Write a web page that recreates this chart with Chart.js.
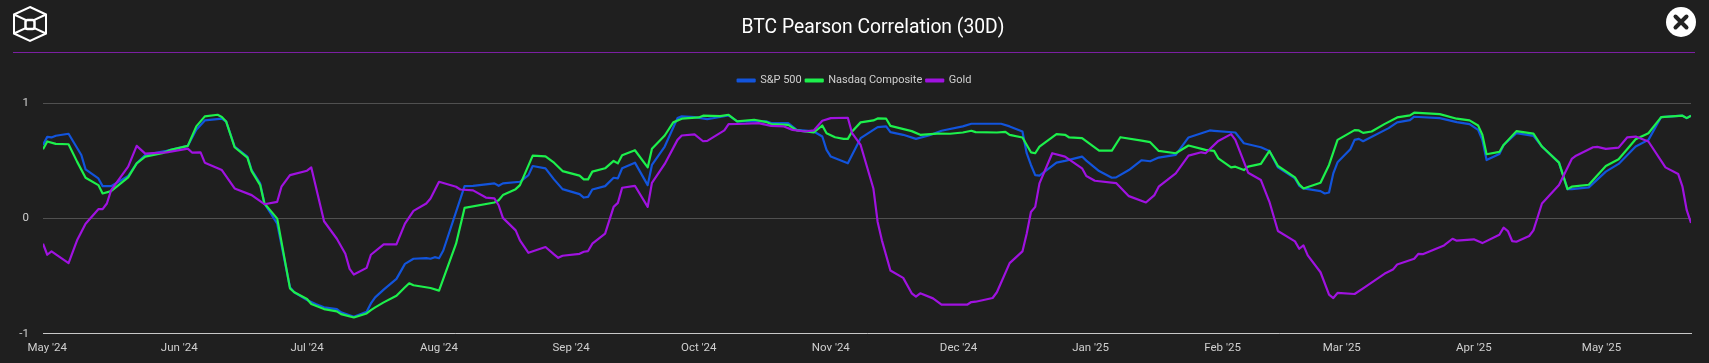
<!DOCTYPE html>
<html>
<head>
<meta charset="utf-8">
<title>BTC Pearson Correlation (30D)</title>
<script src="https://cdn.jsdelivr.net/npm/chart.js@4"></script>
<style>
    html, body { margin: 0; padding: 0; background: #1f1f1f; overflow: hidden; }
    #wrap { position: relative; width: 1709px; height: 363px; }
    #logo { position: absolute; left: 12px; top: 5px; }
    #close { position: absolute; left: 1665px; top: 6px; }
    #rule { position: absolute; left: 13px; top: 52px; width: 1682px; height: 1px; background: #7b1fa2; }
    #heading { position: absolute; left: 673px; width: 400px; top: 14px; text-align: center; color: #fff; font: 19.3px/26px Roboto, sans-serif; }
</style>
</head>
<body>
<div id="wrap">
    <canvas id="chart" width="1709" height="363"></canvas>
    <svg id="logo" width="36" height="38" viewBox="0 0 36 38" fill="none" stroke="#fff" stroke-width="2">
        <path d="M18 2 L34 9.500 V28.500 L18 36 L2 28.500 V9.500 Z"/>
        <path d="M2 9.500 L18 17 L34 9.500 M2 28.500 L18 21 L34 28.500"/>
        <rect x="13.500" y="15" width="9" height="9" rx="2" fill="#1f1f1f" stroke-width="2.500"/>
    </svg>
    <svg id="close" width="32" height="32" viewBox="0 0 32 32">
        <circle cx="16" cy="16" r="15" fill="#fff"/>
        <path d="M10.500 10.500 L21.500 21.500 M21.500 10.500 L10.500 21.500" stroke="#222" stroke-width="4" stroke-linecap="round"/>
    </svg>
    <div id="rule"></div>
    <div id="heading">BTC Pearson Correlation (30D)</div>
</div>
<script>
// days counted from 1 May 2024
const monthDays = [0, 31, 61, 92, 123, 153, 184, 214, 245, 276, 304, 335, 365]
const monthLabels = ["May '24", "Jun '24", "Jul '24", "Aug '24", "Sep '24", "Oct '24", "Nov '24", "Dec '24", "Jan '25", "Feb '25", "Mar '25", "Apr '25", "May '25"]

const spDays = [-1,0,1,2,5,8,9,12,13,15,19,21,23,28,33,35,37,41,42,44,47,48,50,51,54,57,58,61,63,65,68,69,72,75,76,77,79,82,84,86,89,90,91,92,93,98,100,105,106,107,111,113,114,117,119,121,125,126,127,128,131,133,134,135,138,141,142,145,148,149,152,155,156,160,162,166,169,170,174,176,180,182,183,184,188,191,195,197,198,201,204,207,210,215,217,224,226,229,230,231,232,233,237,239,243,244,247,250,251,254,257,259,261,265,268,273,274,279,281,285,287,289,293,294,295,299,300,301,302,303,306,307,308,309,315,317,320,321,327,331,334,336,337,338,341,342,345,349,351,355,357,358,362,366,369,373,376,379,384,385,386]
const spVals = [0.64,0.71,0.705,0.72,0.737,0.553,0.428,0.349,0.282,0.282,0.37,0.48,0.553,0.588,0.632,0.771,0.853,0.868,0.844,0.626,0.539,0.422,0.306,0.131,-0.044,-0.597,-0.64,-0.707,-0.742,-0.771,-0.786,-0.815,-0.853,-0.809,-0.737,-0.684,-0.617,-0.524,-0.393,-0.349,-0.344,-0.349,-0.335,-0.344,-0.277,0.282,0.285,0.306,0.285,0.306,0.32,0.378,0.457,0.437,0.341,0.256,0.213,0.183,0.189,0.253,0.282,0.355,0.349,0.437,0.486,0.291,0.466,0.626,0.873,0.888,0.882,0.865,0.87,0.897,0.844,0.844,0.844,0.83,0.83,0.771,0.757,0.713,0.597,0.539,0.48,0.699,0.795,0.801,0.751,0.728,0.693,0.722,0.763,0.801,0.824,0.824,0.801,0.757,0.568,0.466,0.378,0.373,0.486,0.501,0.539,0.504,0.413,0.355,0.358,0.422,0.507,0.498,0.53,0.553,0.705,0.766,0.763,0.748,0.655,0.62,0.588,0.445,0.349,0.285,0.262,0.239,0.218,0.227,0.393,0.489,0.603,0.684,0.693,0.672,0.786,0.836,0.856,0.885,0.873,0.838,0.821,0.771,0.684,0.509,0.562,0.64,0.742,0.719,0.626,0.486,0.256,0.256,0.271,0.408,0.475,0.626,0.684,0.882,0.894,0.873,0.894]

const ndqDays = [-1,0,2,5,7,9,12,13,15,19,21,23,27,29,33,35,37,40,41,42,44,47,48,50,51,54,57,58,61,62,65,68,69,72,75,76,77,79,82,84,85,86,90,92,96,98,105,106,107,110,111,114,117,119,121,125,126,127,128,131,133,134,135,138,141,142,145,147,149,153,154,158,160,162,166,169,170,174,176,180,182,183,185,187,188,189,191,194,195,197,198,203,205,209,212,215,217,218,223,225,226,229,231,232,233,237,239,240,243,247,250,252,257,259,261,265,268,272,274,275,278,279,281,282,285,287,289,293,294,295,299,301,303,307,308,309,311,314,317,320,321,327,331,334,336,337,338,341,342,345,349,351,355,357,358,362,366,369,373,376,379,384,385,386]
const ndqVals = [0.603,0.67,0.649,0.646,0.495,0.355,0.291,0.218,0.239,0.358,0.48,0.539,0.568,0.597,0.632,0.801,0.888,0.902,0.882,0.844,0.62,0.53,0.413,0.291,0.131,0,-0.606,-0.64,-0.699,-0.742,-0.786,-0.806,-0.83,-0.859,-0.824,-0.795,-0.771,-0.728,-0.67,-0.597,-0.562,-0.579,-0.603,-0.626,-0.218,0.093,0.14,0.16,0.204,0.256,0.291,0.547,0.541,0.486,0.413,0.373,0.341,0.341,0.408,0.437,0.501,0.48,0.55,0.594,0.445,0.606,0.722,0.836,0.868,0.879,0.894,0.891,0.902,0.844,0.859,0.838,0.821,0.815,0.766,0.748,0.809,0.742,0.707,0.693,0.693,0.757,0.836,0.853,0.87,0.868,0.806,0.76,0.728,0.739,0.737,0.748,0.763,0.751,0.748,0.754,0.728,0.705,0.576,0.568,0.626,0.734,0.728,0.705,0.699,0.591,0.591,0.707,0.678,0.664,0.588,0.568,0.635,0.597,0.588,0.524,0.445,0.451,0.422,0.451,0.475,0.588,0.457,0.358,0.297,0.262,0.311,0.466,0.684,0.769,0.766,0.745,0.757,0.821,0.879,0.897,0.92,0.908,0.868,0.853,0.809,0.728,0.559,0.579,0.64,0.76,0.739,0.626,0.486,0.256,0.277,0.294,0.457,0.515,0.69,0.742,0.882,0.894,0.873,0.894]

const goldDays = [-1,0,1,5,7,9,12,13,14,15,19,21,23,28,33,34,36,37,41,44,48,51,54,55,57,61,62,65,68,70,71,72,75,76,79,82,84,86,89,90,92,96,97,100,103,105,106,107,110,111,113,117,119,120,121,125,126,127,128,131,133,134,135,138,141,142,145,148,149,152,154,155,159,160,164,167,170,173,175,178,180,182,184,188,189,191,194,195,196,198,201,203,204,205,208,210,216,217,218,222,223,226,229,230,231,232,233,236,239,243,244,246,251,254,258,260,261,265,268,271,272,275,278,279,282,285,287,289,293,294,295,296,299,301,302,303,307,309,314,316,317,321,322,323,328,330,331,335,337,341,342,343,344,345,348,349,351,355,358,359,363,364,366,369,371,373,376,380,383,384,385,386]
const goldVals = [-0.218,-0.314,-0.285,-0.387,-0.189,-0.044,0.082,0.082,0.131,0.247,0.451,0.632,0.565,0.576,0.608,0.574,0.576,0.486,0.422,0.262,0.204,0.125,0.146,0.277,0.378,0.416,0.445,-0.023,-0.175,-0.306,-0.437,-0.486,-0.428,-0.314,-0.224,-0.224,-0.044,0.067,0.131,0.175,0.32,0.277,0.253,0.245,0.183,0.175,0.116,0.006,-0.102,-0.189,-0.297,-0.247,-0.311,-0.341,-0.323,-0.306,-0.288,-0.282,-0.218,-0.131,0.102,0.137,0.268,0.285,0.102,0.311,0.475,0.684,0.722,0.731,0.672,0.675,0.766,0.821,0.824,0.83,0.806,0.801,0.771,0.757,0.766,0.85,0.873,0.876,0.742,0.64,0.262,-0.029,-0.189,-0.451,-0.515,-0.649,-0.678,-0.649,-0.693,-0.748,-0.748,-0.725,-0.722,-0.69,-0.64,-0.387,-0.285,-0.131,0.058,0.102,0.306,0.568,0.539,0.437,0.37,0.329,0.309,0.195,0.14,0.204,0.277,0.393,0.547,0.576,0.568,0.675,0.734,0.684,0.399,0.335,0.146,-0.108,-0.198,-0.262,-0.233,-0.32,-0.466,-0.661,-0.69,-0.646,-0.655,-0.606,-0.48,-0.443,-0.399,-0.349,-0.306,-0.309,-0.233,-0.175,-0.192,-0.18,-0.213,-0.14,-0.079,-0.108,-0.195,-0.201,-0.151,-0.102,0.131,0.291,0.518,0.547,0.62,0.623,0.606,0.617,0.705,0.713,0.67,0.445,0.387,0.277,0.073,-0.038]

const toPoints = (days, vals) => days.map((d, i) => ({x: d, y: vals[i]}))

Chart.defaults.font.family = "Roboto, sans-serif"

// extra room under the legend, the legend has no option for this
const legendGap = {
    id: 'legendGap',
    beforeInit: (chart) => {
        const fit = chart.legend.fit
        chart.legend.fit = function () {
            fit.call(this)
            this.height += 7.500
        }
    }
}

const chart = new Chart(document.getElementById('chart'), {
    type: 'line',
    plugins: [legendGap],
    data: {
        datasets: [
            {label: 'S&P 500', data: toPoints(spDays, spVals), borderColor: '#1254dc', backgroundColor: '#1254dc', order: 3},
            {label: 'Nasdaq Composite', data: toPoints(ndqDays, ndqVals), borderColor: '#1df04c', backgroundColor: '#1df04c', order: 2},
            {label: 'Gold', data: toPoints(goldDays, goldVals), borderColor: '#a012e0', backgroundColor: '#a012e0', order: 1}
        ]
    },
    options: {
        responsive: false,
        animation: false,
        parsing: false,
        layout: {padding: {left: 18, right: 18, top: 71, bottom: 7.500}},
        elements: {
            point: {radius: 0},
            line: {borderWidth: 2.2, tension: 0, borderJoinStyle: 'round'}
        },
        plugins: {
            legend: {
                display: true,
                position: 'top',
                labels: {
                    color: '#cfcfcf',
                    font: {size: 11},
                    boxWidth: 17,
                    boxHeight: 2,
                    padding: 4,
                    sort: (a, b) => a.datasetIndex - b.datasetIndex
                }
            },
            tooltip: {enabled: false}
        },
        scales: {
            x: {
                type: 'linear',
                min: -1,
                max: 386,
                grid: {display: false},
                border: {color: '#c8c8c8', width: 1},
                afterBuildTicks: (axis) => {
                    axis.ticks = monthDays.map((d) => ({value: d}))
                },
                ticks: {
                    color: '#cfcfcf',
                    font: {size: 11.5},
                    maxRotation: 0,
                    autoSkip: false,
                    padding: 0,
                    callback: (value) => monthLabels[monthDays.indexOf(value)]
                }
            },
            y: {
                min: -1,
                max: 1,
                afterFit: (axis) => { axis.width = 25 },
                grid: {color: '#505050', drawTicks: false},
                border: {display: false},
                ticks: {
                    color: '#cfcfcf',
                    font: {size: 11.5},
                    stepSize: 1,
                    padding: 14
                }
            }
        }
    }
})
</script>
</body>
</html>
